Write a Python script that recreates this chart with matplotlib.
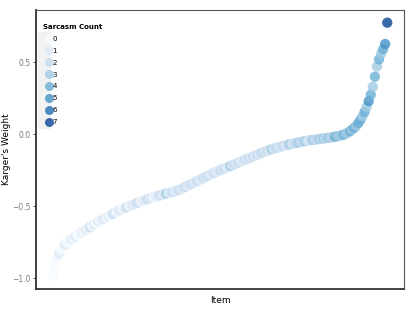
import matplotlib
matplotlib.use("Agg")
import matplotlib.pyplot as plt
from matplotlib.lines import Line2D
from matplotlib.legend_handler import HandlerTuple
import numpy as np

# Karger's weight per item (sorted ascending)
weights = [
    -0.986, -0.92, -0.87, -0.83, -0.80, -0.78, -0.765, -0.75, -0.74, -0.73,
    -0.72, -0.71, -0.70, -0.69, -0.68, -0.675, -0.665, -0.655, -0.645, -0.635,
    -0.625, -0.615, -0.605, -0.597, -0.59, -0.582, -0.575, -0.567, -0.56, -0.552,
    -0.545, -0.538, -0.53, -0.524, -0.518, -0.512, -0.506, -0.50, -0.494, -0.488,
    -0.482, -0.476, -0.47, -0.465, -0.46, -0.455, -0.45, -0.445, -0.44, -0.436,
    -0.432, -0.428, -0.424, -0.42, -0.416, -0.412, -0.408, -0.404, -0.40, -0.395,
    -0.39, -0.387, -0.380, -0.373, -0.366, -0.359, -0.352, -0.345, -0.338, -0.331,
    -0.324, -0.317, -0.310, -0.303, -0.296, -0.289, -0.282, -0.275, -0.268, -0.262,
    -0.256, -0.250, -0.244, -0.238, -0.232, -0.226, -0.220, -0.214, -0.208, -0.202,
    -0.196, -0.190, -0.184, -0.178, -0.172, -0.166, -0.160, -0.154, -0.148, -0.142,
    -0.136, -0.130, -0.124, -0.119, -0.114, -0.109, -0.104, -0.099, -0.095, -0.091,
    -0.087, -0.083, -0.079, -0.075, -0.072, -0.069, -0.066, -0.063, -0.060, -0.057,
    -0.054, -0.051, -0.048, -0.045, -0.043, -0.041, -0.039, -0.037, -0.035, -0.033,
    -0.031, -0.029, -0.027, -0.025, -0.023, -0.021, -0.019, -0.016, -0.013, -0.010,
    -0.006, -0.002, 0.004, 0.012, 0.022, 0.033, 0.045, 0.06, 0.078, 0.10,
    0.125, 0.155, 0.19, 0.23, 0.275, 0.33, 0.40, 0.47, 0.52, 0.56,
    0.59, 0.627, 0.775,
]

# Sarcasm count per item
sarcasm = [
    0, 0, 0, 1, 0, 0, 1, 0, 0, 1,
    0, 1, 0, 0, 1, 0, 1, 0, 2, 0,
    1, 0, 1, 0, 1, 1, 0, 1, 0, 2,
    1, 0, 1, 1, 0, 1, 2, 0, 1, 1,
    1, 2, 1, 0, 1, 1, 2, 1, 1, 0,
    1, 1, 2, 1, 1, 3, 1, 1, 2, 1,
    1, 2, 1, 1, 2, 1, 1, 2, 1, 1,
    2, 1, 1, 2, 1, 2, 1, 1, 2, 1,
    1, 2, 1, 2, 1, 1, 3, 1, 2, 1,
    2, 1, 1, 2, 1, 2, 1, 2, 1, 2,
    1, 2, 2, 1, 2, 1, 3, 1, 2, 2,
    1, 2, 2, 1, 2, 3, 1, 2, 2, 3,
    2, 2, 3, 2, 1, 2, 3, 2, 2, 3,
    2, 3, 2, 3, 3, 2, 3, 4, 3, 3,
    3, 4, 3, 3, 4, 3, 4, 3, 4, 4,
    3, 4, 3, 5, 4, 3, 4, 3, 4, 3,
    4, 5, 7,
]

count_levels = [0, 1, 2, 3, 4, 5, 6, 7]
palette = ["#F7FBFF", "#DEEBF7", "#C6DBEF", "#9ECAE1",
           "#6BAED6", "#4292C6", "#2171B5", "#084594"]

items = np.arange(len(weights))
colors = [palette[c] for c in sarcasm]

fig = plt.figure(figsize=(4.15, 3.12), dpi=100)
ax = fig.add_axes([0.0867, 0.0737, 0.8868, 0.8943])

ax.scatter(items, weights, c=colors, s=55, alpha=0.8, linewidths=0)

n = len(weights)
pad_x = 0.05 * (n - 1)
ax.set_xlim(-pad_x, n - 1 + pad_x)
ymin, ymax = min(weights), max(weights)
pad_y = 0.05 * (ymax - ymin)
ax.set_ylim(ymin - pad_y, ymax + pad_y)

ax.set_xticks([])
ax.set_yticks([-1.0, -0.5, 0.0, 0.5])
ax.set_yticklabels(["\u22121.0", "\u22120.5", "0.0", "0.5"])
ax.tick_params(axis="y", labelsize=5.5, labelcolor="#7a7a7a", color="#333333",
               length=2.5, width=0.6, pad=1.5)
ax.set_ylabel("Karger's Weight", fontsize=6.5)
ax.yaxis.set_label_coords(-0.068, 0.5)
ax.set_xlabel("Item", fontsize=6.5, labelpad=5)

for side in ["left", "bottom"]:
    ax.spines[side].set_linewidth(1.3)
    ax.spines[side].set_color("#333333")
for side in ["top", "right"]:
    ax.spines[side].set_linewidth(0.8)
    ax.spines[side].set_color("#555555")

handles = []
for lvl, col in zip(count_levels, palette):
    bg = Line2D([], [], linestyle="none", marker="s", markersize=8,
                markerfacecolor="#f2f2f2", markeredgecolor="#f2f2f2")
    dot = Line2D([], [], linestyle="none", marker="o", markersize=6.5,
                 markerfacecolor=col, markeredgewidth=0, alpha=0.8)
    handles.append((bg, dot))
leg = ax.legend(handles, [str(l) for l in count_levels],
                handler_map={tuple: HandlerTuple(ndivide=None)},
                title="Sarcasm Count", loc="upper left",
                bbox_to_anchor=(0.0, 0.975), frameon=False,
                fontsize=5, title_fontsize=5, labelspacing=0.85,
                handlelength=1.0, handletextpad=0.4, borderaxespad=0.6)
leg.get_title().set_fontweight("bold")
leg._legend_box.align = "left"

fig.savefig("out.png", dpi=100)
